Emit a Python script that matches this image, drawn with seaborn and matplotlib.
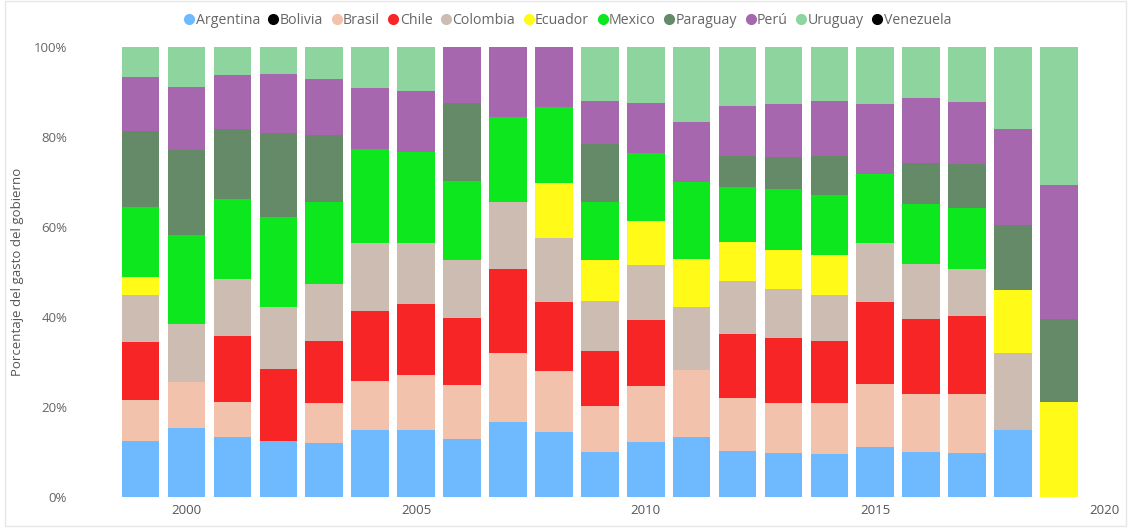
import pandas as pd
import numpy as np
import matplotlib
matplotlib.use("Agg")
import matplotlib.pyplot as plt
from matplotlib.lines import Line2D
from matplotlib.patches import Rectangle
from matplotlib.ticker import PercentFormatter
import seaborn as sns

# Share of government spending per country (%)
years = list(range(1999, 2020))
countries = ['Argentina', 'Bolivia', 'Brasil', 'Chile', 'Colombia', 'Ecuador',
             'Mexico', 'Paraguay', 'Perú', 'Uruguay', 'Venezuela']

argentina = [12.5, 15.3, 13.4, 12.5, 12.1, 14.9, 14.9, 13.0, 16.7, 14.4, 10.1,
             12.2, 13.4, 10.3, 9.7, 9.6, 11.2, 10.0, 9.8, 14.9, 0.0]
bolivia   = [0.0] * 21
brasil    = [9.1, 10.2, 7.8, 0.0, 8.7, 10.9, 12.2, 11.9, 15.2, 13.5, 10.1,
             12.5, 14.8, 11.6, 11.1, 11.4, 13.9, 12.9, 13.2, 0.0, 0.0]
chile     = [12.9, 0.0, 14.6, 15.9, 13.9, 15.5, 15.8, 14.8, 18.8, 15.5, 12.2,
             14.6, 0.0, 14.3, 14.3, 13.7, 18.2, 16.6, 17.3, 0.0, 0.0]
colombia  = [10.5, 12.9, 12.6, 13.8, 12.6, 15.1, 13.5, 13.0, 14.9, 14.1, 11.2,
             12.3, 14.0, 11.9, 10.8, 10.1, 13.1, 12.2, 10.4, 17.0, 0.0]
ecuador   = [4.0, 0.0, 0.0, 0.0, 0.0, 0.0, 0.0, 0.0, 0.0, 12.2, 9.1,
             9.9, 10.8, 8.5, 8.8, 8.9, 0.0, 0.0, 0.0, 14.1, 21.2]
mexico    = [15.5, 19.8, 17.8, 20.1, 18.3, 20.9, 20.3, 17.6, 18.8, 17.0, 12.8,
             15.0, 16.9, 12.4, 13.5, 13.4, 15.4, 13.5, 13.5, 0.0, 0.0]
paraguay  = [16.9, 18.9, 15.5, 18.5, 14.8, 0.0, 0.0, 17.2, 0.0, 0.0, 12.9,
             0.0, 0.0, 6.8, 6.9, 8.7, 0.0, 9.1, 9.7, 14.4, 18.4]
peru      = [12.0, 14.1, 12.0, 13.3, 12.6, 13.7, 13.6, 12.5, 15.6, 13.3, 9.6,
             11.2, 13.5, 11.1, 11.7, 12.2, 15.5, 14.3, 13.9, 21.4, 29.7]
uruguay   = [6.6, 8.8, 6.3, 5.9, 7.0, 9.0, 9.7, 0.0, 0.0, 0.0, 12.0,
             12.4, 16.6, 13.1, 12.7, 12.0, 12.7, 11.4, 12.2, 18.2, 30.7]
venezuela = [0.0] * 21

series = [argentina, bolivia, brasil, chile, colombia, ecuador,
          mexico, paraguay, peru, uruguay, venezuela]

palette = {'Argentina': '#6FB9FF', 'Bolivia': '#000000', 'Brasil': '#F3C2AD',
           'Chile': '#F72525', 'Colombia': '#CDBCB2', 'Ecuador': '#FFFA18',
           'Mexico': '#0DE81E', 'Paraguay': '#648A68', 'Perú': '#A667AE',
           'Uruguay': '#8ED49F', 'Venezuela': '#000000'}

rows = []
for name, vals in zip(countries, series):
    for y, v in zip(years, vals):
        rows.append({'year': y, 'country': name, 'share': v})
df = pd.DataFrame(rows)

sns.set_style("white")
plt.rcParams['font.family'] = ['Open Sans', 'DejaVu Sans']

fig = plt.figure(figsize=(11.28, 5.29), dpi=100)
ax = fig.add_axes([120 / 1128, 32 / 529, (1114 - 120) / 1128, 450 / 529])

# seaborn stacks the first hue level on top, so reverse the order
sns.histplot(data=df, x='year', weights='share', hue='country',
             hue_order=countries[::-1], palette=palette, multiple='fill',
             discrete=True, shrink=0.82, alpha=1, linewidth=0,
             legend=False, ax=ax)

ax.set_xlim(1998.55, 2020.2)
ax.set_ylim(0, 1)
ax.set_xticks([2000, 2005, 2010, 2015, 2020])
ax.set_yticks([0, 0.2, 0.4, 0.6, 0.8, 1.0])
ax.yaxis.set_major_formatter(PercentFormatter(1.0, decimals=0))
ax.tick_params(axis='y', length=0, pad=38, labelsize=9.5, labelcolor='#666666')
ax.tick_params(axis='x', length=0, pad=5, labelsize=9.5, labelcolor='#555555')
ax.set_xlabel('')
ax.set_ylabel('')
for spine in ax.spines.values():
    spine.set_visible(False)

fig.text(18 / 1128, 1 - 272 / 529, 'Porcentaje del gasto del gobierno',
         rotation=90, ha='center', va='center', fontsize=9.5, color='#555555')

handles = [Line2D([], [], marker='o', linestyle='', markersize=7,
                  markerfacecolor=palette[c], markeredgecolor=palette[c])
           for c in countries]
fig.legend(handles, countries, loc='center', bbox_to_anchor=(0.503, 1 - 20 / 529),
           ncol=len(countries), frameon=False, fontsize=10.2, labelcolor='#666666',
           handletextpad=0.05, columnspacing=0.55, handlelength=0.8,
           borderaxespad=0)

# light frame around the visual
fig.patches.append(Rectangle((5 / 1128, 3 / 529), 1121 / 1128, 525 / 529,
                             transform=fig.transFigure, fill=False,
                             edgecolor='#E6E6E6', linewidth=1))

fig.savefig('out.png', dpi=100)
